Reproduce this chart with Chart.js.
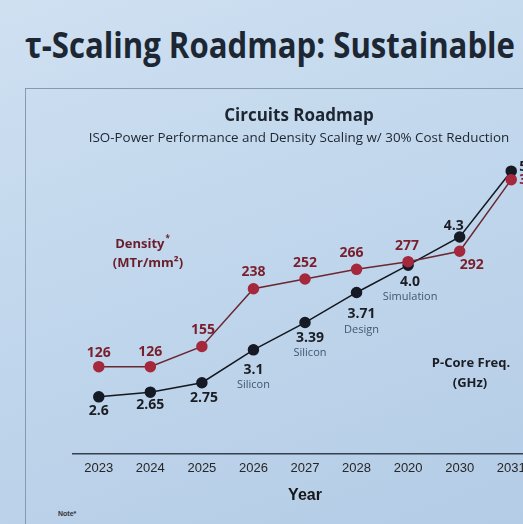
<!DOCTYPE html>
<html><head><meta charset="utf-8">
<script src="https://cdn.jsdelivr.net/npm/chart.js@4.4.1/dist/chart.umd.min.js"></script>
<style>
html,body{margin:0;padding:0;width:523px;height:524px;overflow:hidden;}
body{background:linear-gradient(160deg,#cfe0f1 0%,#c0d6ec 50%,#b4cce6 100%);position:relative;}
#title{position:absolute;left:25px;top:22px;font:700 35px 'Open Sans',sans-serif;color:#1c2733;white-space:nowrap;transform-origin:0 0;line-height:46px;}
#box{position:absolute;left:25px;top:88px;width:620px;height:520px;border-left:1px solid #8799ad;border-top:1px solid #8799ad;}
#wrap{position:absolute;left:25px;top:88px;width:548px;height:420px;}
#note{position:absolute;left:58px;top:510px;font:700 7px 'Liberation Sans',sans-serif;color:#333;}
</style></head>
<body>
<div id="title">τ-Scaling Roadmap: Sustainable</div>
<div id="box"></div>
<div id="wrap"><canvas id="c"></canvas></div>
<div id="note">Note*</div>
<script>
const years = ['2023','2024','2025','2026','2027','2028','2020','2030','2031'];
const densityValues = [126,126,155,238,252,266,277,292,395];
const densityText = ['126','126','155','238','252','266','277','292','395'];
const freqValues = [2.6,2.65,2.75,3.1,3.39,3.71,4.0,4.3,5.0];
const freqText = ['2.6','2.65','2.75','3.1','3.39','3.71','4.0','4.3','5.0'];
const freqNotes = ['','','','Silicon','Silicon','Design','Simulation','',''];

// fit main title width
const t = document.getElementById('title');
t.style.transform = 'scaleX(' + (490 / t.getBoundingClientRect().width) + ')';

const labelPlugin = {
  id: 'pointLabels',
  afterDatasetsDraw(chart, args, opts) {
    const ctx = chart.ctx;
    chart.data.datasets.forEach((ds, di) => {
      const meta = chart.getDatasetMeta(di);
      const cfg = opts.sets[di];
      meta.data.forEach((pt, i) => {
        const off = cfg.offsets[i];
        ctx.save();
        ctx.font = 'bold 14px "Open Sans"';
        ctx.fillStyle = cfg.color;
        ctx.textAlign = off[2] || 'center';
        ctx.textBaseline = 'middle';
        ctx.fillText(cfg.text[i], pt.x + off[0], pt.y + off[1]);
        if (cfg.notes && cfg.notes[i]) {
          ctx.font = '11px "Open Sans"';
          ctx.fillStyle = '#42576c';
          ctx.fillText(cfg.notes[i], pt.x + off[0], pt.y + off[1] + 15);
        }
        ctx.restore();
      });
    });
    ctx.save();
    ctx.textBaseline = 'middle';
    opts.captions.forEach(c => {
      ctx.font = c.font;
      ctx.fillStyle = c.color;
      const w = ctx.measureText(c.text).width;
      let sw = 0;
      if (c.sup) { ctx.font = c.supFont; sw = ctx.measureText(c.sup).width; ctx.font = c.font; }
      const x0 = c.x - (w + sw) / 2;
      ctx.textAlign = 'left';
      ctx.fillText(c.text, x0, c.y);
      if (c.sup) { ctx.font = c.supFont; ctx.fillText(c.sup, x0 + w + 1, c.y - 5); }
    });
    ctx.restore();
  }
};

const hiddenAxis = (pos, min, max, w) => ({
  display: true, position: pos, min: min, max: max,
  grid: { display: false, drawTicks: false },
  border: { display: false },
  ticks: { display: false },
  afterFit(scale) { scale.width = w; }
});

new Chart(document.getElementById('c'), {
  type: 'line',
  data: {
    labels: years,
    datasets: [
      {
        label: 'Density (MTr/mm²)',
        data: densityValues,
        yAxisID: 'yD',
        borderColor: '#6a2732',
        borderWidth: 1.5,
        pointRadius: 5,
        pointBackgroundColor: '#a5283c',
        pointBorderColor: '#a5283c',
        tension: 0,
        clip: false
      },
      {
        label: 'P-Core Freq. (GHz)',
        data: freqValues,
        yAxisID: 'yF',
        borderColor: '#14171e',
        borderWidth: 1.5,
        pointRadius: 5,
        pointBackgroundColor: '#161a25',
        pointBorderColor: '#161a25',
        tension: 0,
        clip: false
      }
    ]
  },
  plugins: [labelPlugin],
  options: {
    responsive: true,
    maintainAspectRatio: false,
    animation: false,
    layout: { padding: 0 },
    plugins: {
      legend: { display: false },
      tooltip: { enabled: false },
      title: {
        display: true, text: 'Circuits Roadmap', color: '#1c2530',
        font: { family: 'Open Sans', size: 17, weight: 'bold' },
        padding: { top: 18, bottom: 4 }
      },
      subtitle: {
        display: true, text: 'ISO-Power Performance and Density Scaling w/ 30% Cost Reduction',
        color: '#1c2530', font: { family: 'Open Sans', size: 13.4 },
        padding: { top: 0, bottom: 4 }
      },
      pointLabels: {
        sets: [
          { color: '#7a1e2e', text: densityText,
            offsets: [[0,-14],[0,-15],[1,-16],[0,-17],[0,-16],[-5,-16],[-1,-16],[12,14],[8,0,'left']] },
          { color: '#1a1d24', text: freqText, notes: freqNotes,
            offsets: [[0,14],[0,13],[2,15],[0,20],[5,15],[5,22],[2,17],[-6,-11],[8,-4,'left']] }
        ],
        captions: [
          { text: 'Density', sup: '*', supFont: 'bold 8px "Open Sans"', x: 117, y: 156, font: 'bold 13px "Open Sans"', color: '#6a1d2b' },
          { text: '(MTr/mm²)', x: 123, y: 175, font: 'bold 13px "Open Sans"', color: '#6a1d2b' },
          { text: 'P-Core Freq.', x: 446, y: 275, font: 'bold 13px "Open Sans"', color: '#1a1d24' },
          { text: '(GHz)', x: 445, y: 295, font: 'bold 13px "Open Sans"', color: '#1a1d24' }
        ]
      }
    },
    scales: {
      x: {
        offset: true,
        grid: { display: false, drawTicks: false, offset: true },
        border: { display: true, color: '#34414e', width: 1.5 },
        ticks: { color: '#262626', font: { family: 'Liberation Sans', size: 13 }, padding: 6, maxRotation: 0, autoSkip: false },
        title: { display: true, text: 'Year', color: '#161616',
          font: { family: 'Liberation Sans', size: 16, weight: 'bold' }, padding: { top: 4, bottom: 3 } }
      },
      yD: hiddenAxis('left', 0, 437, 48),
      yF: hiddenAxis('right', 1.99, 5.22, 36)
    }
  }
});
</script>
</body></html>
